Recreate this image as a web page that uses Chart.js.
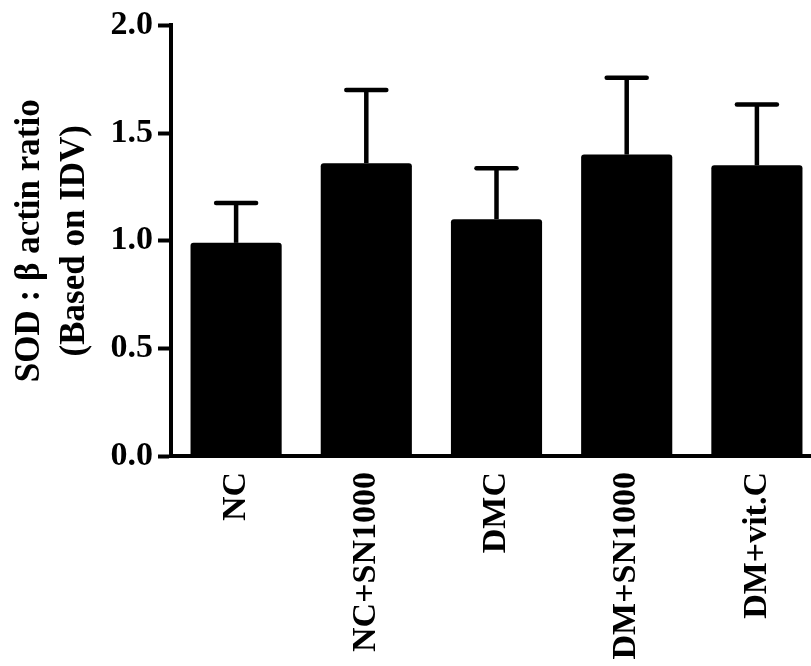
<!DOCTYPE html>
<html>
<head>
<meta charset="utf-8">
<script src="https://cdn.jsdelivr.net/npm/chart.js@4.4.1/dist/chart.umd.min.js"></script>
<style>
  html, body { margin: 0; padding: 0; background: #fff; overflow: hidden; }
  #wrap { width: 811px; height: 666px; overflow: hidden; }
  canvas { display: block; }
</style>
</head>
<body>
<div id="wrap"><canvas id="chart" width="822" height="666"></canvas></div>
<script>
// Data (mean + upper SEM)
const GROUPS  = ['NC', 'NC+SN1000', 'DMC', 'DM+SN1000', 'DM+vit.C']
const MEANS   = [0.99, 1.36, 1.10, 1.40, 1.35]
const SEM     = [0.185, 0.34, 0.236, 0.357, 0.283]
const Y_TICKS = [0, 0.5, 1.0, 1.5, 2.0]
const Y_TITLE = ['SOD : β actin ratio', '(Based on IDV)']

const FONT = "'Liberation Serif', 'Times New Roman', serif"

// upward-only error bars with a flat cap
const errorBars = {
  id: 'errorBars',
  afterDatasetsDraw(chart) {
    const { ctx, scales: { y } } = chart
    const meta = chart.getDatasetMeta(0)
    ctx.save()
    ctx.strokeStyle = '#000'
    ctx.lineWidth = 4.5
    meta.data.forEach((bar, i) => {
      const top = y.getPixelForValue(MEANS[i] + SEM[i])
      const half = 20
      ctx.lineCap = 'butt'
      ctx.beginPath(); ctx.moveTo(bar.x, bar.y); ctx.lineTo(bar.x, top); ctx.stroke()
      ctx.lineCap = 'round'
      ctx.beginPath(); ctx.moveTo(bar.x - half, top); ctx.lineTo(bar.x + half, top); ctx.stroke()
    })
    ctx.restore()
  },
}

new Chart(document.getElementById('chart'), {
  type: 'bar',
  data: {
    labels: GROUPS,
    datasets: [{
      data: MEANS,
      backgroundColor: '#000',
      borderWidth: 0,
      borderRadius: 3,
      borderSkipped: 'bottom',
      barPercentage: 0.7,
      categoryPercentage: 1,
    }],
  },
  options: {
    responsive: false,
    animation: false,
    layout: { padding: { top: 4, left: 0, right: 0, bottom: 0 } },
    plugins: { legend: { display: false }, tooltip: { enabled: false } },
    scales: {
      x: {
        grid: { display: false },
        border: { display: true, width: 4, color: '#000' },
        ticks: {
          color: '#000',
          font: { family: FONT, size: 34, weight: 'bold' },
          minRotation: 90, maxRotation: 90,
          padding: 8,
          autoSkip: false,
        },
        afterFit: (s) => { s.height = 210 },
      },
      y: {
        min: 0, max: 2,
        afterBuildTicks: (s) => { s.ticks = Y_TICKS.map(v => ({ value: v })) },
        grid: {
          drawOnChartArea: false, drawTicks: true,
          tickLength: 13, tickWidth: 4, tickColor: '#000',
        },
        border: { display: true, width: 4, color: '#000' },
        ticks: {
          color: '#000',
          font: { family: FONT, size: 34, weight: 'bold' },
          padding: 5,
          callback: (v) => Number(v).toFixed(1),
        },
        title: {
          display: true,
          text: Y_TITLE,
          color: '#000',
          font: { family: FONT, size: 35, weight: 'bold', lineHeight: 1.29 },
          padding: { top: 7, bottom: 0 },
        },
        afterFit: (s) => { s.width = 171 },
      },
    },
  },
  plugins: [errorBars],
})
</script>
</body>
</html>
